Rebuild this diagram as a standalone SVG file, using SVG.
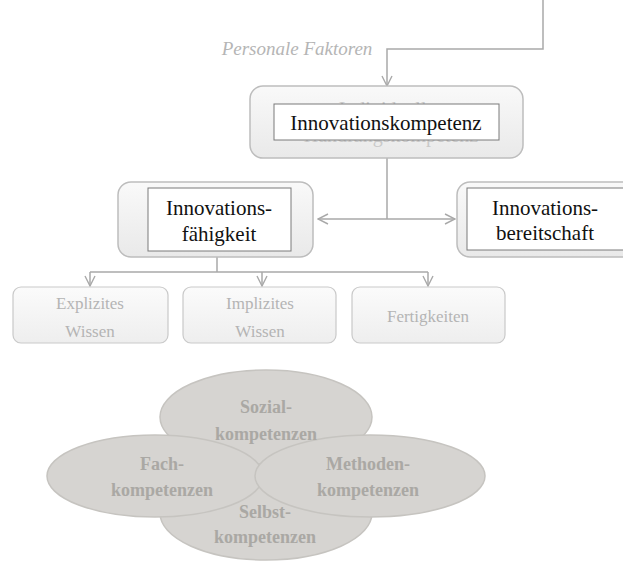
<svg xmlns="http://www.w3.org/2000/svg" width="623" height="562" viewBox="0 0 623 562">
<style>
.outer{fill:url(#gOuter);stroke:#bdbdbd;stroke-width:1.5}
.inner{fill:#fff;stroke:#7a7a7a;stroke-width:1}
.child{fill:url(#gChild);stroke:#c9c9c9;stroke-width:1.2}
.t{font-family:"Liberation Serif","Times New Roman",serif;text-anchor:middle}
.main{font-size:21px;fill:#111}
.faint{font-size:17px;fill:#b4b4b4}
.hid{font-size:20px;fill:#c9c9c9}
.ell{fill:#d6d4d1;stroke:#c6c4c0;stroke-width:1.5}
.et{font-size:18px;font-weight:bold;fill:#aaa8a4}
.conn{fill:none;stroke:#a9a9a9;stroke-width:1.5}
</style>
<defs>
<linearGradient id="gOuter" x1="0" y1="0" x2="0" y2="1">
<stop offset="0" stop-color="#f9f9f9"/><stop offset="1" stop-color="#e9e9e9"/>
</linearGradient>
<linearGradient id="gChild" x1="0" y1="0" x2="0" y2="1">
<stop offset="0" stop-color="#fbfbfb"/><stop offset="1" stop-color="#eeeeee"/>
</linearGradient>
<marker id="arr" viewBox="0 0 12 12" refX="11" refY="6" markerWidth="12" markerHeight="12" markerUnits="userSpaceOnUse" orient="auto-start-reverse">
<path d="M1,1 L11,6 L1,11" fill="none" stroke="#a9a9a9" stroke-width="1.4"/>
</marker>
</defs>

<text class="t" x="297" y="55" style="font-size:19px;font-style:italic;fill:#b5b5b5">Personale Faktoren</text>

<g id="connectors">
<path class="conn" d="M543,0 V49 H387 V86" marker-end="url(#arr)"/>
<path class="conn" d="M387,158 V219"/>
<path class="conn" d="M318,219 H455" marker-start="url(#arr)" marker-end="url(#arr)"/>
<path class="conn" d="M217,257 V272"/>
<path class="conn" d="M90,272 H428"/>
<path class="conn" d="M90,272 V286" marker-end="url(#arr)"/>
<path class="conn" d="M262,272 V286" marker-end="url(#arr)"/>
<path class="conn" d="M428,272 V286" marker-end="url(#arr)"/>
</g>

<g id="innovationskompetenz">
<rect class="outer" x="250" y="86" width="273" height="72" rx="13"/>
<text class="t hid" x="387" y="116">Individuelle</text>
<text class="t hid" x="391" y="142">Handlungskompetenz</text>
<rect class="inner" x="274" y="104" width="225" height="36"/>
<text class="t main" x="386" y="130">Innovationskompetenz</text>
</g>

<g id="innovationsfaehigkeit">
<rect class="outer" x="118" y="182" width="195" height="75" rx="13"/>
<rect class="inner" x="148" y="188" width="143" height="63"/>
<text class="t main" x="219" y="215">Innovations-</text>
<text class="t main" x="219" y="241">fähigkeit</text>
</g>

<g id="innovationsbereitschaft">
<rect class="outer" x="457" y="182" width="178" height="75" rx="13"/>
<rect class="inner" x="467" y="188" width="160" height="62"/>
<text class="t main" x="545" y="215">Innovations-</text>
<text class="t main" x="545" y="240">bereitschaft</text>
</g>

<g id="explizites">
<rect class="child" x="13" y="287" width="155" height="56" rx="8"/>
<text class="t faint" x="90" y="309">Explizites</text>
<text class="t faint" x="90" y="337">Wissen</text>
</g>
<g id="implizites">
<rect class="child" x="183" y="287" width="153" height="56" rx="8"/>
<text class="t faint" x="260" y="309">Implizites</text>
<text class="t faint" x="260" y="337">Wissen</text>
</g>
<g id="fertigkeiten">
<rect class="child" x="352" y="287" width="153" height="56" rx="8"/>
<text class="t faint" x="428" y="322">Fertigkeiten</text>
</g>

<g id="kompetenzen">
<ellipse class="ell" cx="266" cy="417" rx="106" ry="47"/>
<ellipse class="ell" cx="266" cy="513" rx="106" ry="47"/>
<ellipse class="ell" cx="155" cy="476" rx="108" ry="41"/>
<ellipse class="ell" cx="370" cy="476" rx="115" ry="41"/>
<text class="t et" x="266" y="413">Sozial-</text>
<text class="t et" x="266" y="440">kompetenzen</text>
<text class="t et" x="162" y="470">Fach-</text>
<text class="t et" x="162" y="496">kompetenzen</text>
<text class="t et" x="368" y="470">Methoden-</text>
<text class="t et" x="368" y="496">kompetenzen</text>
<text class="t et" x="265" y="518">Selbst-</text>
<text class="t et" x="265" y="543">kompetenzen</text>
</g>
</svg>
